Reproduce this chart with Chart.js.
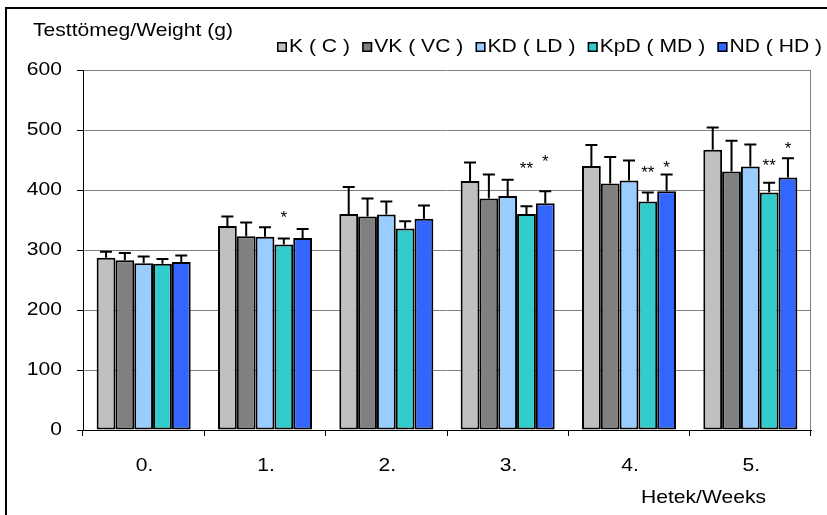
<!DOCTYPE html>
<html>
<head>
<meta charset="utf-8">
<script src="https://cdn.jsdelivr.net/npm/chart.js@4.4.1/dist/chart.umd.min.js"></script>
<style>
  html, body { margin: 0; padding: 0; background: #fff; }
  #c { display: block; }
</style>
</head>
<body>
<canvas id="c" width="827" height="515"></canvas>
<script>
// Weeks on the x axis
const categories = ['0.', '1.', '2.', '3.', '4.', '5.'];
const yTicks = [0, 100, 200, 300, 400, 500, 600];

// Mean body weight (g) per group
const K   = [287, 340, 360, 415, 440, 467];
const VK  = [283, 323, 356, 386, 411, 431];
const KD  = [278, 322, 359, 390, 416, 439];
const KpD = [277, 309, 336, 360, 381, 396];
const ND  = [280, 320, 352, 378, 398, 421];

// Standard deviation (g), drawn upward only
const K_err   = [10, 16, 45, 31, 35, 37];
const VK_err  = [12, 23, 30, 40, 44, 51];
const KD_err  = [11, 16, 22, 27, 33, 37];
const KpD_err = [8, 10, 12, 13, 15, 16];
const ND_err  = [11, 15, 22, 20, 28, 32];

// Significance marks and the weight level they sit at
const KpD_sig  = ['', '*', '', '**', '**', '**'];
const KpD_sigY = [null, 361, null, 443, 436, 448];
const ND_sig   = ['', '', '', '*', '*', '*'];
const ND_sigY  = [null, null, null, 455, 445, 476];

const seriesNames = ['K ( C )', 'VK ( VC )', 'KD ( LD )', 'KpD ( MD )', 'ND ( HD )'];
const seriesColors = ['#C0C0C0', '#808080', '#99CCFF', '#33CCCC', '#3366FF'];
const seriesValues = [K, VK, KD, KpD, ND];
const seriesErrors = [K_err, VK_err, KD_err, KpD_err, ND_err];
const seriesSig = [null, null, null, [KpD_sig, KpD_sigY], [ND_sig, ND_sigY]];

const FONT = '18.5px "Liberation Sans", Arial, sans-serif';
const SX = 1.14; // wide lettering

function textWidth(ctx, text) {
  ctx.save();
  ctx.font = FONT;
  const w = ctx.measureText(text).width * SX;
  ctx.restore();
  return w;
}

function wideText(ctx, text, x, y, align) {
  const w = textWidth(ctx, text);
  const x0 = align === 'center' ? x - w / 2 : align === 'right' ? x - w : x;
  ctx.save();
  ctx.font = FONT;
  ctx.translate(x0, y);
  ctx.scale(SX, 1);
  ctx.textAlign = 'left';
  ctx.textBaseline = 'middle';
  ctx.fillStyle = '#000';
  ctx.fillText(text, 0, 0);
  ctx.restore();
  return w;
}

const decorations = {
  id: 'decorations',
  afterDatasetsDraw(chart) {
    const ctx = chart.ctx;
    const y = chart.scales.y;
    // error bars
    ctx.save();
    ctx.strokeStyle = '#000';
    ctx.lineWidth = 2;
    chart.data.datasets.forEach((ds, di) => {
      const meta = chart.getDatasetMeta(di);
      meta.data.forEach((bar, i) => {
        const v = seriesValues[di][i];
        const e = seriesErrors[di][i];
        const y0 = y.getPixelForValue(v);
        const y1 = y.getPixelForValue(v + e);
        ctx.beginPath();
        ctx.moveTo(bar.x, y0);
        ctx.lineTo(bar.x, y1);
        ctx.moveTo(bar.x - 6, y1);
        ctx.lineTo(bar.x + 6, y1);
        ctx.stroke();
      });
    });
    ctx.restore();
    // significance stars
    chart.data.datasets.forEach((ds, di) => {
      const sig = seriesSig[di];
      if (!sig) return;
      const meta = chart.getDatasetMeta(di);
      meta.data.forEach((bar, i) => {
        if (!sig[0][i]) return;
        ctx.save();
        ctx.font = '17px "Liberation Sans", Arial, sans-serif';
        ctx.fillStyle = '#000';
        ctx.textAlign = 'center';
        ctx.textBaseline = 'alphabetic';
        ctx.fillText(sig[0][i], bar.x, y.getPixelForValue(sig[1][i]) + 10);
        ctx.restore();
      });
    });
  },
  afterDraw(chart) {
    const ctx = chart.ctx;
    const a = chart.chartArea;
    const xs = chart.scales.x;
    const ys = chart.scales.y;
    // plot frame on the right
    ctx.save();
    ctx.strokeStyle = '#808080';
    ctx.lineWidth = 1;
    ctx.beginPath();
    ctx.moveTo(Math.round(a.right) - 0.5, a.top);
    ctx.lineTo(Math.round(a.right) - 0.5, a.bottom);
    ctx.stroke();
    ctx.restore();
    // y tick labels
    yTicks.forEach(v => wideText(ctx, String(v), a.left - 21, ys.getPixelForValue(v), 'right'));
    // x tick labels
    categories.forEach((c, i) => wideText(ctx, c, xs.getPixelForValue(i) + 1, 466, 'center'));
    // axis titles
    wideText(ctx, 'Testtömeg/Weight (g)', 33, 31, 'left');
    wideText(ctx, 'Hetek/Weeks', 641, 498, 'left');
    // legend, spread between its two ends
    const lStart = 277, lEnd = 822, ly = 47, box = 10, boxGap = 2;
    const widths = seriesNames.map(n => textWidth(ctx, n));
    const used = widths.reduce((s, w) => s + w, 0) + seriesNames.length * (box + boxGap);
    const gap = (lEnd - lStart - used) / (seriesNames.length - 1);
    let lx = lStart;
    seriesNames.forEach((name, i) => {
      ctx.save();
      ctx.fillStyle = seriesColors[i];
      ctx.fillRect(lx, ly - 5, box, box);
      ctx.strokeStyle = '#000';
      ctx.lineWidth = 1.5;
      ctx.strokeRect(lx + 0.75, ly - 4.25, box - 1.5, box - 1.5);
      ctx.restore();
      wideText(ctx, name, lx + box + boxGap, ly, 'left');
      lx += box + boxGap + widths[i] + gap;
    });
    // outer frame
    ctx.save();
    ctx.strokeStyle = '#000';
    ctx.lineWidth = 2;
    ctx.beginPath();
    ctx.moveTo(6, 515);
    ctx.lineTo(6, 8);
    ctx.lineTo(827, 8);
    ctx.stroke();
    ctx.restore();
  }
};

new Chart(document.getElementById('c'), {
  type: 'bar',
  data: {
    labels: categories,
    datasets: seriesNames.map((n, i) => ({
      label: n,
      data: seriesValues[i],
      backgroundColor: seriesColors[i],
      borderColor: '#000',
      borderWidth: 2,
      borderSkipped: false,
      categoryPercentage: 0.775,
      barPercentage: 1.0
    }))
  },
  options: {
    responsive: false,
    animation: false,
    devicePixelRatio: 1,
    layout: { padding: { left: 83, right: 16, top: 70, bottom: 85 } },
    plugins: { legend: { display: false }, title: { display: false }, tooltip: { enabled: false } },
    scales: {
      x: {
        offset: true,
        ticks: { display: false },
        grid: { offset: true, drawOnChartArea: false, drawTicks: true, tickLength: 6, tickColor: '#000', tickWidth: 1 },
        border: { color: '#000', width: 1 },
        afterFit(s) { s.height = 0; }
      },
      y: {
        min: 0,
        max: 600,
        ticks: { display: false, stepSize: 100 },
        grid: { color: '#808080', lineWidth: 1, drawTicks: true, tickLength: 6, tickColor: '#000' },
        border: { color: '#000', width: 1 },
        afterFit(s) { s.width = 0; }
      }
    }
  },
  plugins: [decorations]
});
</script>
</body>
</html>
